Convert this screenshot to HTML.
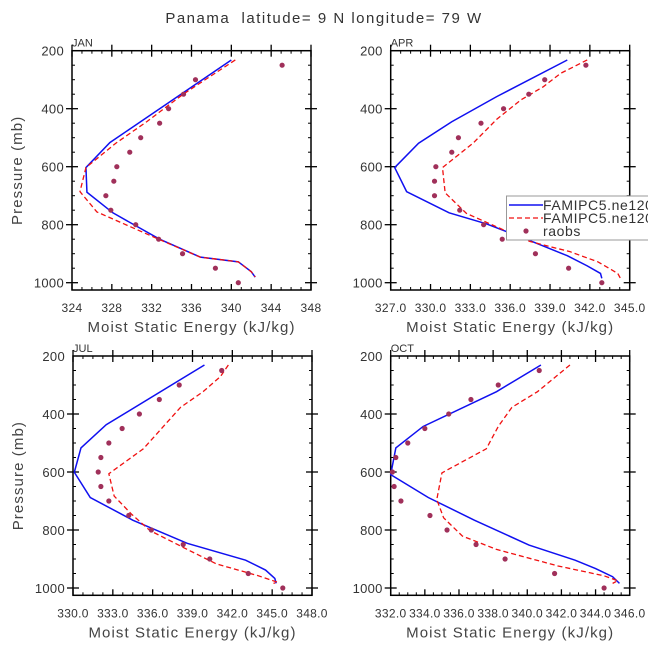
<!DOCTYPE html>
<html><head><meta charset="utf-8">
<style>
body{margin:0;background:#fff;}
svg{display:block;font-family:"Liberation Sans",sans-serif;}
</style></head>
<body>
<svg id="chart" width="648" height="649" viewBox="0 0 648 649">
<text x="324" y="23" text-anchor="middle" font-size="15" fill="#333" style="letter-spacing:1.5px;white-space:pre" xml:space="preserve">Panama  latitude= 9 N longitude= 79 W</text>
</svg>
<script>
const pressureLevels=[250,300,350,400,450,500,550,600,650,700,750,800,850,900,950,1000];
const yTicks=[200,400,600,800,1000];
// JAN
const janXTicks=[324,328,332,336,340,344,348];
const janTickLabels=["324","328","332","336","340","344","348"];
const janBlueP=[232,517,603,688,759,850,912,928,962,981];
const janBlueE=[340.0,327.8,325.4,325.5,328.1,332.8,336.9,340.7,342.0,342.4];
const janRedP=[232,349,445,519,603,686,756,850,912,928,962,980];
const janRedE=[340.4,335.2,331.5,328.4,325.4,324.8,326.5,332.7,336.9,340.7,342.0,342.4];
const janObs=[345.1,336.4,335.2,333.7,332.8,330.9,329.8,328.5,328.2,327.4,327.9,330.4,332.7,335.1,338.4,340.7];
// APR
const aprXTicks=[327,330,333,336,339,342,345];
const aprTickLabels=["327.0","330.0","333.0","336.0","339.0","342.0","345.0"];
const aprBlueP=[232,358,445,519,603,686,759,797,855,907,942,968,985];
const aprBlueE=[340.3,335.0,331.6,329.1,327.3,328.2,331.4,334.2,337.5,340.3,341.8,342.8,342.9];
const aprRedP=[232,278,324,370,436,519,603,690,761,818,858,893,928,968,985];
const aprRedE=[341.8,339.8,338.5,336.8,335.0,333.2,330.9,331.1,332.7,335.5,337.5,340.5,342.6,344.1,344.3];
const aprObs=[341.7,338.6,337.4,335.5,333.8,332.1,331.6,330.4,330.3,330.3,332.2,334.0,335.4,337.9,340.4,342.9];
// JUL
const julXTicks=[330,333,336,339,342,345,348];
const julTickLabels=["330.0","333.0","336.0","339.0","342.0","345.0","348.0"];
const julBlueP=[231,437,517,601,688,766,846,904,938,967,984];
const julBlueE=[339.9,332.5,330.6,330.1,331.3,334.5,338.6,343.0,344.5,345.2,345.3];
const julRedP=[231,271,323,377,520,606,683,745,802,860,917,957,980,984];
const julRedE=[341.7,341.1,339.8,338.1,335.3,332.7,333.1,334.4,335.8,338.3,340.8,343.9,345.4,345.1];
const julObs=[341.2,338.0,336.5,335.0,333.7,332.7,332.1,331.9,332.1,332.7,334.2,335.9,338.3,340.3,343.2,345.8];
// OCT
const octXTicks=[332,334,336,338,340,342,344,346];
const octTickLabels=["332.0","334.0","336.0","338.0","340.0","342.0","344.0","346.0"];
const octBlueP=[231,323,443,517,609,688,766,852,904,933,961,984];
const octBlueE=[340.8,338.2,333.9,332.3,332.0,334.2,336.9,340.1,342.8,344.0,345.0,345.4];
const octRedP=[231,323,377,443,520,603,695,758,821,867,924,958,975,984];
const octRedE=[342.5,340.6,339.1,338.3,337.6,335.0,334.7,335.1,336.2,338.2,341.8,344.5,345.3,345.0];
const octObs=[340.7,338.3,336.7,335.4,334.0,333.0,332.3,332.1,332.2,332.6,334.3,335.3,337.0,338.7,341.6,344.5];

const NS="http://www.w3.org/2000/svg";
const svg=document.getElementById('chart');
function mk(tag,attrs,parent){const e=document.createElementNS(NS,tag);for(const k in attrs)e.setAttribute(k,attrs[k]);(parent||svg).appendChild(e);return e;}

function panel(cfg){
  const L=cfg.left,T=cfg.top,W=239,B=T+239.3;
  const xmin=cfg.xt[0],xmax=cfg.xt[cfg.xt.length-1];
  const xs=v=>L+(v-xmin)/(xmax-xmin)*W;
  const ys=p=>T+(p-200)*0.29;
  const g=mk('g',{});
  
  
  const lab=mk('text',{x:L,y:T-4,'font-size':11,fill:'#333'},g);lab.textContent=cfg.label;
  
  
  const step=cfg.xt[1]-cfg.xt[0];
  for(let i=0;i<cfg.xt.length-1;i++){
    for(let k=1;k<4;k++){const x=xs(cfg.xt[i]+step*k/4);
      mk('line',{x1:x,x2:x,y1:B,y2:B-3,stroke:'#000','stroke-width':1},g);
      mk('line',{x1:x,x2:x,y1:T,y2:T+3,stroke:'#000','stroke-width':1},g);}
  }
  cfg.xt.forEach((v,i)=>{const x=xs(v);
    mk('line',{x1:x,x2:x,y1:B,y2:B-6,stroke:'#000','stroke-width':1.3},g);
    mk('line',{x1:x,x2:x,y1:T,y2:T+6,stroke:'#000','stroke-width':1.3},g);
    mk('line',{x1:x,x2:x,y1:T,y2:T-6,stroke:'#000','stroke-width':1.3},g);
    const t=mk('text',{x:x,y:B+22,'text-anchor':'middle','font-size':12,fill:'#333','letter-spacing':'0.3'},g);t.textContent=cfg.tl[i];
    
    
  });
  for(let p=250;p<=1000;p+=50){const y=ys(p);const maj=(p%200===0);
    const len=maj?6:3;
    mk('line',{x1:L,x2:L+len,y1:y,y2:y,stroke:'#000','stroke-width':maj?1.3:1},g);
    mk('line',{x1:L+W,x2:L+W-len,y1:y,y2:y,stroke:'#000','stroke-width':maj?1.3:1},g);
    if(maj){mk('line',{x1:L,x2:L-6,y1:y,y2:y,stroke:'#000','stroke-width':1.3},g);
      mk('line',{x1:L+W,x2:L+W+6,y1:y,y2:y,stroke:'#000','stroke-width':1.3},g);}
  }
  yTicks.forEach(p=>{const t=mk('text',{x:L-8,y:ys(p)+5,'text-anchor':'end','font-size':13,fill:'#333','letter-spacing':'0.3'},g);t.textContent=p;
    
    });
  mk('rect',{x:L,y:T,width:W,height:B-T,fill:'none',stroke:'#000','stroke-width':1.5},g);
  const xt=mk('text',{x:L+W/2,y:B+42,'text-anchor':'middle','font-size':15,fill:'#444','letter-spacing':'1.1'},g);xt.textContent='Moist Static Energy (kJ/kg)';
  
  
  if(cfg.ytitle){const yt=mk('text',{x:0,y:0,'text-anchor':'middle','font-size':15,fill:'#444','letter-spacing':'1.1',transform:`translate(${L-50},${(T+B)/2}) rotate(-90)`},g);yt.textContent='Pressure (mb)';
    
    }
  const bl=mk('polyline',{points:cfg.bp.map((p,i)=>xs(cfg.be[i])+','+ys(p)).join(' '),fill:'none',stroke:'#1010f0','stroke-width':1.5},g);
  
  
  const rl=mk('polyline',{points:cfg.rp.map((p,i)=>xs(cfg.re[i])+','+ys(p)).join(' '),fill:'none',stroke:'#f01010','stroke-width':1.3,'stroke-dasharray':'5,3'},g);
  
  
  pressureLevels.forEach((p,i)=>{const c=mk('circle',{cx:xs(cfg.obs[i]),cy:ys(p),r:2.6,fill:'#a0305a'},g);
    
    });
}
panel({name:'jan',label:'JAN',left:72,top:50.7,xt:janXTicks,tl:janTickLabels,bp:janBlueP,be:janBlueE,rp:janRedP,re:janRedE,obs:janObs,ytitle:true});
panel({name:'apr',label:'APR',left:390.7,top:50.7,xt:aprXTicks,tl:aprTickLabels,bp:aprBlueP,be:aprBlueE,rp:aprRedP,re:aprRedE,obs:aprObs,ytitle:false});
panel({name:'jul',label:'JUL',left:73,top:356,xt:julXTicks,tl:julTickLabels,bp:julBlueP,be:julBlueE,rp:julRedP,re:julRedE,obs:julObs,ytitle:true});
panel({name:'oct',label:'OCT',left:390.7,top:356,xt:octXTicks,tl:octTickLabels,bp:octBlueP,be:octBlueE,rp:octRedP,re:octRedE,obs:octObs,ytitle:false});
// legend
const lg=mk('g',{});


mk('rect',{x:506.5,y:196,width:150,height:44,fill:'#fff',stroke:'#999','stroke-width':1},lg);
mk('line',{x1:509,x2:543,y1:205,y2:205,stroke:'#1010f0','stroke-width':1.5},lg);
mk('line',{x1:509,x2:543,y1:218,y2:218,stroke:'#f01010','stroke-width':1.3,'stroke-dasharray':'5,3'},lg);
mk('circle',{cx:526,cy:231,r:2.6,fill:'#a0305a'},lg);
[['FAMIPC5.ne120.',210],['FAMIPC5.ne120.',223],['raobs',236]].forEach(d=>{const t=mk('text',{x:543,y:d[1],'font-size':14,fill:'#333','letter-spacing':'0.6'},lg);t.textContent=d[0];
  
  });
</script>
</body></html>
